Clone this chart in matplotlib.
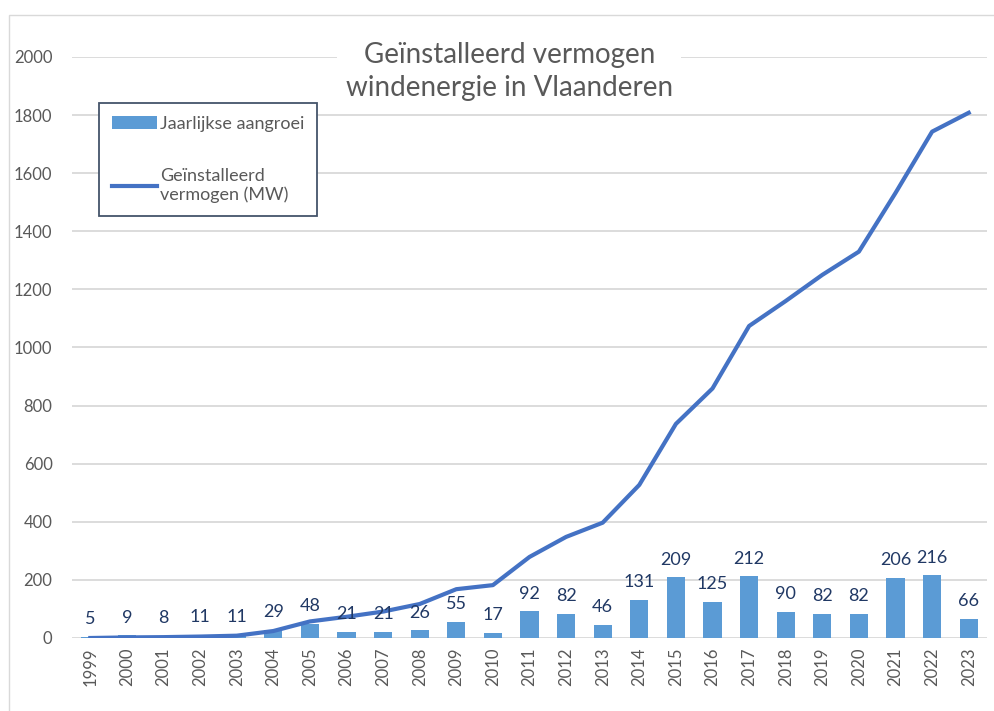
import matplotlib.pyplot as plt
from matplotlib.patches import Rectangle

plt.rcParams['font.family'] = ['Lato', 'DejaVu Sans']

# data
jaren = [str(j) for j in range(1999, 2024)]
aangroei = [5, 9, 8, 11, 11, 29, 48, 21, 21, 26, 55, 17, 92, 82, 46,
            131, 209, 125, 212, 90, 82, 82, 206, 216, 66]
vermogen = [0, 2, 3, 5, 8, 24, 57, 73, 91, 117, 168, 182, 279, 348, 397,
            527, 737, 859, 1074, 1160, 1250, 1330, 1532, 1743, 1808]

grijs = '#595959'

fig = plt.figure(figsize=(9.95, 7.11), dpi=100)
ax = fig.add_axes([72/995, 1 - 638/711, 915/995, 581/711])

x = list(range(len(jaren)))
staven = ax.bar(x, aangroei, width=0.5, color='#5B9BD5', zorder=2,
                label='Jaarlijkse aangroei')
lijn, = ax.plot(x, vermogen, color='#4472C4', lw=3, zorder=3,
                solid_joinstyle='round', label='Geïnstalleerd\nvermogen (MW)')

for xi, v in zip(x, aangroei):
    ax.annotate(str(v), (xi, v), xytext=(0, 7), textcoords='offset points',
                ha='center', va='bottom', fontsize=13, color='#203864',
                zorder=4)

ax.set_xlim(-0.5, 24.5)
ax.set_ylim(0, 2000)
ax.set_yticks(range(0, 2001, 200))
ax.set_xticks(x)
ax.set_xticklabels(jaren, rotation=90, fontsize=12, color=grijs)
ax.tick_params(axis='y', labelsize=12, labelcolor=grijs, length=0, pad=14)
ax.tick_params(axis='x', length=0, pad=7)
ax.yaxis.grid(True, color='#D9D9D9', lw=1.3, zorder=0)
for s in ax.spines.values():
    s.set_visible(False)

ax.text(0.478, 0.975, 'Geïnstalleerd vermogen\nwindenergie in Vlaanderen',
        transform=ax.transAxes, ha='center', va='center', fontsize=20,
        color=grijs, linespacing=1.35,
        bbox=dict(facecolor='white', edgecolor='none', pad=6), zorder=5)

leg = ax.legend(handles=[staven, lijn], loc='upper left',
                bbox_to_anchor=(99/995, 1 - 103/711),
                bbox_transform=fig.transFigure, fontsize=13,
                labelspacing=2.0, handlelength=2.5, handletextpad=0.2,
                borderpad=0.7, borderaxespad=0, fancybox=False, framealpha=1)
leg.get_frame().set_edgecolor('#44546A')
leg.get_frame().set_linewidth(1.3)
for t in leg.get_texts():
    t.set_color(grijs)

fig.patches.append(Rectangle((9/995, -0.1), 1.2, 1 - 15/711 + 0.1,
                             transform=fig.transFigure, fill=False,
                             edgecolor='#D9D9D9', lw=1))

fig.savefig('out.png', dpi=100)
